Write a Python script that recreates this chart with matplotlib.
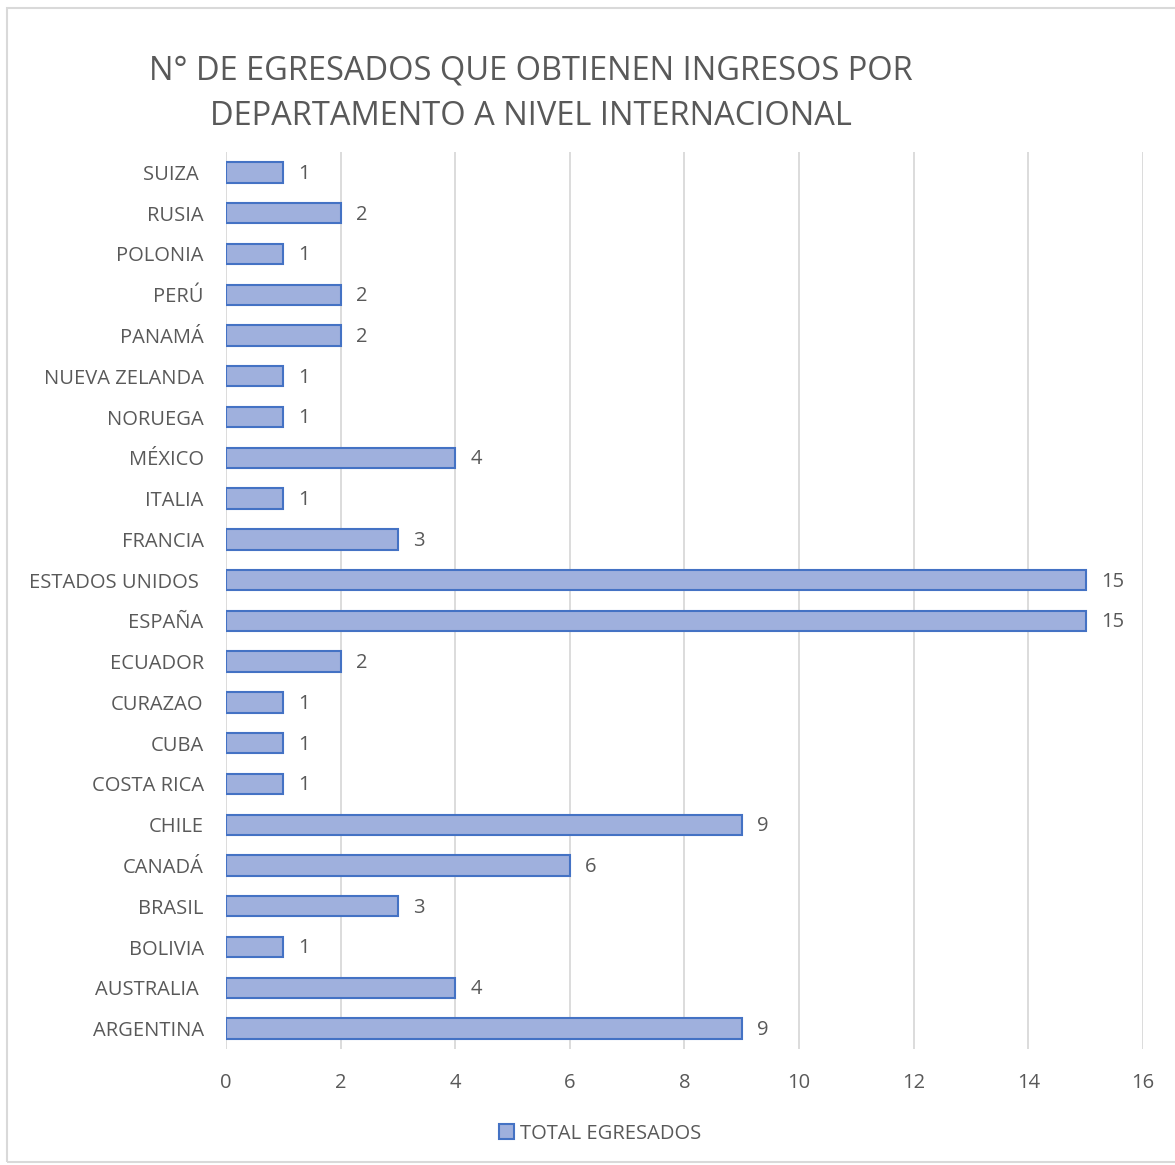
import matplotlib
matplotlib.use("Agg")
import matplotlib.pyplot as plt
from matplotlib.patches import Rectangle

countries = ["ARGENTINA", "AUSTRALIA ", "BOLIVIA", "BRASIL", "CANADÁ", "CHILE",
             "COSTA RICA", "CUBA", "CURAZAO", "ECUADOR", "ESPAÑA", "ESTADOS UNIDOS ",
             "FRANCIA", "ITALIA", "MÉXICO", "NORUEGA", "NUEVA ZELANDA", "PANAMÁ",
             "PERÚ", "POLONIA", "RUSIA", "SUIZA "]
values = [9, 4, 1, 3, 6, 9, 1, 1, 1, 2, 15, 15, 3, 1, 4, 1, 1, 2, 2, 1, 2, 1]
xticks = [0, 2, 4, 6, 8, 10, 12, 14, 16]
title = "N° DE EGRESADOS QUE OBTIENEN INGRESOS POR\nDEPARTAMENTO A NIVEL INTERNACIONAL"
series_name = "TOTAL EGRESADOS"

plt.rcParams['font.family'] = ['Open Sans', 'DejaVu Sans']
gray = "#595959"

fig = plt.figure(figsize=(11.75, 11.65), dpi=100)
ax = fig.add_axes([0.1923, 0.0996, 0.7805, 0.7699])

y = list(range(len(countries)))
bars = ax.barh(y, values, height=0.5, color="#9fb0dd", edgecolor="#4472C4",
               linewidth=1.5, label=series_name, zorder=3)
for yi, v in zip(y, values):
    ax.annotate(str(v), (v, yi), xytext=(11, -1), textcoords="offset points",
                va="center", ha="left", fontsize=14.5, color=gray)

ax.set_ylim(-0.5, len(countries) - 0.5)
ax.set_xlim(0, 16)
ax.set_xticks(xticks)
ax.set_yticks(y)
ax.set_yticklabels(countries)
ax.tick_params(axis="y", length=0, pad=16, labelsize=14.5, labelcolor=gray)
ax.tick_params(axis="x", length=0, pad=17, labelsize=14.5, labelcolor=gray)
ax.grid(axis="x", color="#d9d9d9", linewidth=1.3, zorder=0)
for s in ax.spines.values():
    s.set_visible(False)

fig.text(0.452, 0.9197, title, ha="center", va="center", fontsize=23.5,
         color=gray, linespacing=1.48)

fig.legend(handles=[bars], labels=[series_name], loc="center",
           bbox_to_anchor=(0.511, 0.027), frameon=False, fontsize=14.5,
           handlelength=0.75, handleheight=0.75, handletextpad=0.3,
           labelcolor=gray)

fig.patches.append(Rectangle((7 / 1175, 3 / 1165), 1.2, (1157 - 3) / 1165,
                             transform=fig.transFigure, fill=False,
                             edgecolor="#d9d9d9", linewidth=1.5))

fig.savefig("out.png", dpi=100, facecolor="white")
